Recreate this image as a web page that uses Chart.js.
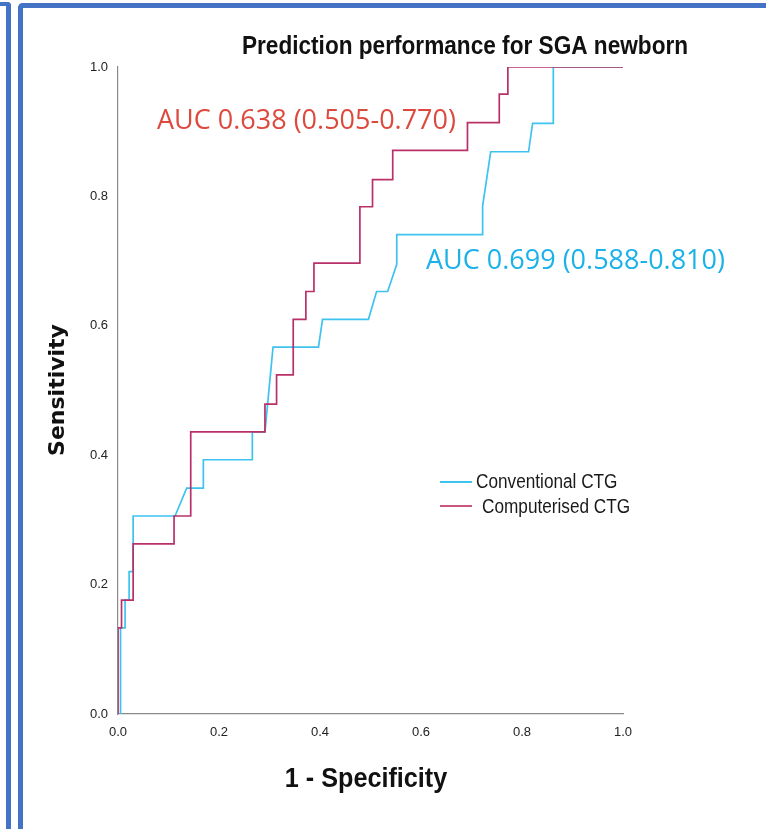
<!DOCTYPE html>
<html>
<head>
<meta charset="utf-8">
<script src="https://cdn.jsdelivr.net/npm/chart.js@4.4.1/dist/chart.umd.min.js"></script>
<style>
  html, body { margin: 0; padding: 0; background: #fff; }
  #wrap { position: relative; width: 766px; height: 829px; overflow: hidden; }
  #rocChart { position: absolute; left: 0; top: 0; }
  .frame { position: absolute; background: #4472c4; }
</style>
</head>
<body>
<div id="wrap">
  <canvas id="rocChart" width="766" height="829"></canvas>
  <!-- the blue frames round the picture -->
  <div class="frame" style="left:0;top:2px;width:11px;height:4px;border-top-right-radius:4px;"></div>
  <div class="frame" style="left:6px;top:2px;width:5px;height:827px;border-top-right-radius:4px;"></div>
  <div class="frame" style="left:18px;top:3px;width:748px;height:5px;border-top-left-radius:5px;"></div>
  <div class="frame" style="left:18px;top:3px;width:5px;height:826px;border-top-left-radius:5px;"></div>
</div>
<script>
// ROC points (1 - specificity, sensitivity)
const conv_fpr = [0, 0.005, 0.005, 0.014, 0.014, 0.022, 0.022, 0.030, 0.030, 0.113, 0.136, 0.169, 0.169, 0.266, 0.266, 0.291, 0.307, 0.397, 0.405, 0.496, 0.512, 0.534, 0.552, 0.552, 0.722, 0.722, 0.738, 0.813, 0.821, 0.862, 0.862, 1.0];
const conv_tpr = [0, 0, 0.133, 0.133, 0.176, 0.176, 0.220, 0.220, 0.306, 0.306, 0.349, 0.349, 0.393, 0.393, 0.436, 0.436, 0.567, 0.567, 0.610, 0.610, 0.653, 0.653, 0.695, 0.741, 0.741, 0.785, 0.869, 0.869, 0.913, 0.913, 1.0, 1.0];

const comp_fpr = [0, 0, 0.007, 0.007, 0.030, 0.030, 0.111, 0.111, 0.144, 0.144, 0.291, 0.291, 0.314, 0.314, 0.347, 0.347, 0.372, 0.372, 0.388, 0.388, 0.479, 0.479, 0.504, 0.504, 0.544, 0.544, 0.692, 0.692, 0.755, 0.755, 0.772, 0.772, 1.0];
const comp_tpr = [0, 0.133, 0.133, 0.176, 0.176, 0.263, 0.263, 0.306, 0.306, 0.436, 0.436, 0.479, 0.479, 0.524, 0.524, 0.610, 0.610, 0.653, 0.653, 0.697, 0.697, 0.784, 0.784, 0.826, 0.826, 0.871, 0.871, 0.914, 0.914, 0.958, 0.958, 1.0, 1.0];

const seriesNames = ['Conventional CTG', 'Computerised CTG'];
const aucLabels = ['AUC 0.699 (0.588-0.810)', 'AUC 0.638 (0.505-0.770)'];
const axisTicks = [0, 0.2, 0.4, 0.6, 0.8, 1.0];

const blueLine = '#3ec2f0';
const redLine = '#b93068';

function toPoints(xs, ys) {
    let pts = [];
    for (let i = 0; i < xs.length; i++) {
        pts.push({x: xs[i], y: ys[i]});
    }
    return pts;
}

const sans = '"Liberation Sans", Arial, sans-serif';

// squeezed text, the picture uses a condensed face
function narrowText(ctx, text, x, y, sx) {
    ctx.save();
    ctx.translate(x, y);
    ctx.scale(sx, 1);
    ctx.fillText(text, 0, 0);
    ctx.restore();
}

// titles, AUC notes and legend are drawn on top of the plot
const textPlugin = {
    id: 'rocText',
    afterDraw(chart) {
        const ctx = chart.ctx;
        ctx.save();
        ctx.textBaseline = 'middle';

        ctx.fillStyle = '#111';
        ctx.font = 'bold 26px ' + sans;
        ctx.textAlign = 'center';
        narrowText(ctx, 'Prediction performance for SGA newborn', 465, 47, 0.87);

        ctx.font = 'bold 28px ' + sans;
        narrowText(ctx, '1 - Specificity', 366, 779, 0.9);

        ctx.save();
        ctx.translate(58, 390);
        ctx.rotate(-Math.PI / 2);
        ctx.font = 'bold 22px "DejaVu Sans", Verdana, sans-serif';
        ctx.fillText('Sensitivity', 0, 0);
        ctx.restore();

        ctx.textAlign = 'left';
        ctx.font = '27px "Open Sans", "Noto Sans", sans-serif';
        ctx.fillStyle = '#dc4a3e';
        ctx.fillText(aucLabels[1], 157, 121);
        ctx.fillStyle = '#1ab2e8';
        ctx.fillText(aucLabels[0], 426, 261);

        // legend
        ctx.lineWidth = 2;
        ctx.strokeStyle = blueLine;
        ctx.beginPath(); ctx.moveTo(440, 482); ctx.lineTo(472, 482); ctx.stroke();
        ctx.strokeStyle = '#c9577f';
        ctx.beginPath(); ctx.moveTo(440, 506); ctx.lineTo(472, 506); ctx.stroke();
        ctx.fillStyle = '#1a1a1a';
        ctx.font = '20px ' + sans;
        narrowText(ctx, seriesNames[0], 476, 482, 0.86);
        narrowText(ctx, seriesNames[1], 482, 507, 0.86);

        ctx.restore();
    }
};

const tickFont = {family: sans, size: 13};

const config = {
    type: 'scatter',
    data: {
        datasets: [{
            label: seriesNames[1],
            data: toPoints(comp_fpr, comp_tpr),
            borderColor: redLine,
            borderWidth: 1.7,
            showLine: true,
            pointRadius: 0,
            tension: 0,
        }, {
            label: seriesNames[0],
            data: toPoints(conv_fpr, conv_tpr),
            borderColor: blueLine,
            borderWidth: 1.7,
            showLine: true,
            pointRadius: 0,
            tension: 0,
        }]
    },
    options: {
        responsive: false,
        animation: false,
        layout: {
            padding: {top: 67, right: 143, bottom: 0, left: 0}
        },
        plugins: {
            legend: {display: false},
            tooltip: {enabled: false},
            title: {display: false}
        },
        scales: {
            x: {
                type: 'linear',
                min: 0,
                max: 1,
                afterFit: function (scale) { scale.height = 115; },
                afterBuildTicks: function (scale) {
                    scale.ticks = axisTicks.map(v => ({value: v}));
                },
                grid: {display: false, drawTicks: false},
                border: {display: true, color: '#8a8a8a', width: 1.2},
                ticks: {
                    color: '#222',
                    font: tickFont,
                    padding: 11,
                    maxRotation: 0,
                    callback: v => v.toFixed(1)
                }
            },
            y: {
                type: 'linear',
                min: 0,
                max: 1,
                afterFit: function (scale) { scale.width = 118; },
                afterBuildTicks: function (scale) {
                    scale.ticks = axisTicks.map(v => ({value: v}));
                },
                grid: {display: false, drawTicks: false},
                border: {display: true, color: '#8a8a8a', width: 1.2},
                ticks: {
                    color: '#222',
                    font: tickFont,
                    padding: 10,
                    callback: v => v.toFixed(1)
                }
            }
        }
    },
    plugins: [textPlugin]
};

var rocChart = new Chart(document.getElementById('rocChart'), config);
</script>
</body>
</html>
